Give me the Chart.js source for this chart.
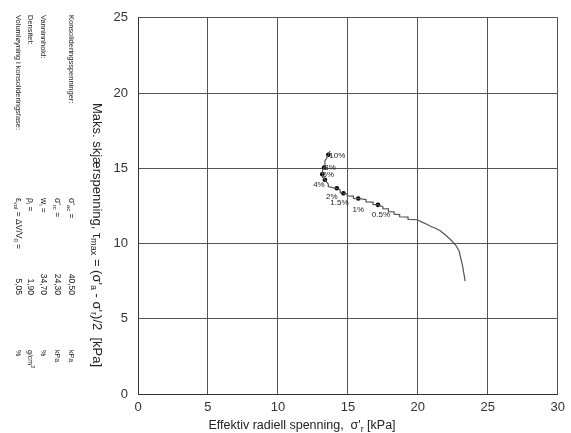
<!DOCTYPE html>
<html>
<head>
<meta charset="utf-8">
<script src="https://cdn.jsdelivr.net/npm/chart.js@4.4.1/dist/chart.umd.min.js"></script>
<style>
    html, body { margin: 0; padding: 0; background: #fff; }
    #wrap { width: 571px; height: 433px; position: relative; }
</style>
</head>
<body>
<div id="wrap"><canvas id="stress-path"></canvas></div>
<script>
// --- Data ---
const sigmaR = [23.38, 23.2, 22.95, 22.7, 22.4, 22.0, 21.6, 21.25, 20.9, 20.6, 20.3, 19.95,
    19.3, 19.3, 18.7, 18.7, 18.3, 18.3, 17.9, 17.9, 17.5, 17.5, 17.15, 16.8, 16.8, 16.3, 16.3,
    15.74, 15.4, 15.4, 14.95, 14.95, 14.68, 14.45, 14.45, 14.21, 13.9, 13.6, 13.6, 13.36,
    13.2, 13.17, 13.2, 13.3, 13.36, 13.5, 13.6, 13.72];
const tauMax = [7.5, 8.5, 9.5, 9.9, 10.2, 10.55, 10.85, 11.02, 11.15, 11.3, 11.42, 11.58,
    11.6, 11.75, 11.78, 11.92, 11.95, 12.1, 12.12, 12.3, 12.32, 12.45, 12.57, 12.6, 12.75, 12.77, 12.92,
    12.99, 13.0, 13.15, 13.17, 13.3, 13.34, 13.38, 13.55, 13.67, 13.72, 13.78, 13.95, 14.24,
    14.4, 14.6, 14.85, 15.05, 15.5, 15.7, 15.9, 16.15];

const strainLabels = ['0.5%', '1%', '1.5%', '2%', '4%', '6%', '8%', '10%'];
const strainX = [17.15, 15.74, 14.68, 14.21, 13.36, 13.17, 13.3, 13.6];
const strainY = [12.57, 12.99, 13.34, 13.67, 14.24, 14.6, 15.05, 15.9];

const xTicks = [0, 5, 10, 15, 20, 25, 30];
const yTicks = [0, 5, 10, 15, 20, 25];

const infoLabels = ['Konsolideringsspenninger:', '', 'Vanninnhold:', 'Densitet:', 'Volumløyning i konsolideringsfase:'];
const infoValues = ['40,50', '24,30', '34,70', '1,90', '5,05'];

// --- Styling ---
const FONT = '"Liberation Sans", Arial, Helvetica, sans-serif';
const INK = '#222';
const labelOffsets = [[3, 10], [0, 11], [-4, 10], [-5, 9], [-6, 5], [6, 0], [6, 0], [9, 1]];

// rich text in the current (possibly rotated) frame; parts: {t, sub, sup}
function richWidth(ctx, parts, size) {
    let w = 0;
    parts.forEach(p => {
        ctx.font = `${(p.sub || p.sup) ? size * 0.7 : size}px ${FONT}`;
        w += ctx.measureText(p.t).width;
    });
    return w;
}
function drawRich(ctx, parts, x, y, size, align) {
    let cx = x;
    const w = richWidth(ctx, parts, size);
    if (align === 'center') cx -= w / 2;
    if (align === 'right') cx -= w;
    ctx.textAlign = 'left';
    ctx.textBaseline = 'middle';
    parts.forEach(p => {
        const s = (p.sub || p.sup) ? size * 0.7 : size;
        ctx.font = `${s}px ${FONT}`;
        const dy = p.sub ? size * 0.3 : (p.sup ? -size * 0.35 : 0);
        ctx.fillText(p.t, cx, y + dy);
        cx += ctx.measureText(p.t).width;
    });
}
function rotated(ctx, x, y, fn) {
    ctx.save();
    ctx.translate(x, y);
    ctx.rotate(Math.PI / 2);
    fn();
    ctx.restore();
}

const textPlugin = {
    id: 'textPlugin',
    afterDraw(chart) {
        const ctx = chart.ctx;
        const xs = chart.scales.x, ys = chart.scales.y;
        ctx.save();
        ctx.fillStyle = INK;

        // strain labels next to the marked points
        strainLabels.forEach((lab, i) => {
            const px = xs.getPixelForValue(strainX[i]) + labelOffsets[i][0];
            const py = ys.getPixelForValue(strainY[i]) + labelOffsets[i][1];
            ctx.font = `8px ${FONT}`;
            ctx.textAlign = 'center';
            ctx.textBaseline = 'middle';
            ctx.fillText(lab, px, py);
        });

        // x axis title
        drawRich(ctx, [
            { t: "Effektiv radiell spenning,  σ'" }, { t: 'r', sub: true }, { t: ' [kPa]' }
        ], 302, 426, 12.5, 'center');

        // y axis title (rotated, reads top to bottom)
        rotated(ctx, 97, 235, () => {
            drawRich(ctx, [
                { t: 'Maks. skjærspenning, τ' }, { t: 'max', sub: true },
                { t: " = (σ'" }, { t: 'a', sub: true }, { t: " - σ'" }, { t: 'r', sub: true },
                { t: ')/2  [kPa]' }
            ], 0, 0, 13, 'center');
        });

        // left info block
        const rowX = [71, 57, 43, 30, 18];
        infoLabels.forEach((lab, i) => {
            if (!lab) return;
            rotated(ctx, rowX[i], 15, () => drawRich(ctx, [{ t: lab }], 0, 0, 7.5, 'left'));
        });
        const symbols = [
            [{ t: "σ'" }, { t: 'ac', sub: true }, { t: ' =' }],
            [{ t: "σ'" }, { t: 'rc', sub: true }, { t: ' =' }],
            [{ t: 'w' }, { t: 'i', sub: true }, { t: ' =' }],
            [{ t: 'ρ' }, { t: 'i', sub: true }, { t: ' =' }],
            [{ t: 'ε' }, { t: 'vol', sub: true }, { t: ' = ΔV/V' }, { t: '0', sub: true }, { t: ' =' }]
        ];
        const units = [
            [{ t: 'kPa' }], [{ t: 'kPa' }], [{ t: '%' }],
            [{ t: 'g/cm' }, { t: '3', sup: true }], [{ t: '%' }]
        ];
        symbols.forEach((sym, i) => {
            rotated(ctx, rowX[i], 198, () => drawRich(ctx, sym, 0, 0, 8.5, 'left'));
            rotated(ctx, rowX[i], 295, () => drawRich(ctx, [{ t: infoValues[i] }], 0, 0, 8.5, 'right'));
            rotated(ctx, rowX[i], 350, () => drawRich(ctx, units[i], 0, 0, 7, 'left'));
        });
        ctx.restore();
    }
};

const curvePoints = sigmaR.map((x, i) => ({ x: x, y: tauMax[i] }));
const strainPoints = strainX.map((x, i) => ({ x: x, y: strainY[i] }));

new Chart(document.getElementById('stress-path'), {
    type: 'scatter',
    data: {
        datasets: [{
            data: curvePoints,
            showLine: true,
            borderColor: '#555',
            borderWidth: 1.2,
            pointRadius: 0,
            tension: 0
        }, {
            data: strainPoints,
            showLine: false,
            pointRadius: 2.3,
            pointBackgroundColor: '#000',
            pointBorderColor: '#000',
            pointBorderWidth: 0
        }]
    },
    options: {
        responsive: true,
        maintainAspectRatio: false,
        animation: false,
        events: [],
        layout: { padding: { top: 14, right: 7, left: 0, bottom: 0 } },
        plugins: {
            legend: { display: false },
            tooltip: { enabled: false }
        },
        scales: {
            x: {
                type: 'linear',
                min: 0,
                max: 30,
                afterBuildTicks: axis => { axis.ticks = xTicks.map(v => ({ value: v })); },
                afterFit: axis => { axis.height = 39; },
                ticks: { color: '#333', font: { size: 13, family: FONT }, padding: 6, maxRotation: 0 },
                grid: { color: '#555', lineWidth: 1, drawTicks: false },
                border: { color: '#333', width: 1 }
            },
            y: {
                type: 'linear',
                min: 0,
                max: 25,
                afterBuildTicks: axis => { axis.ticks = yTicks.map(v => ({ value: v })); },
                afterFit: axis => { axis.width = 138; },
                ticks: { color: '#333', font: { size: 13, family: FONT }, padding: 10 },
                grid: { color: '#555', lineWidth: 1, drawTicks: false },
                border: { color: '#333', width: 1 }
            }
        }
    },
    plugins: [textPlugin]
});
</script>
</body>
</html>
